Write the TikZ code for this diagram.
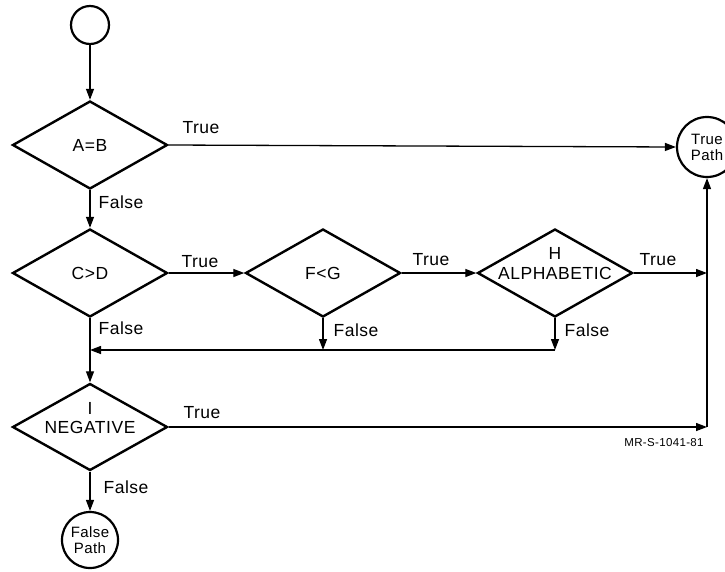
\documentclass[tikz,border=0pt]{standalone}
\usepackage{fontspec}
\setmainfont{Liberation Sans}[LetterSpace=3]
\usetikzlibrary{shapes.geometric,arrows.meta}
\begin{document}
\begin{tikzpicture}[x=1pt,y=-1pt,
  dia/.style={draw,diamond,line width=2.4pt,inner sep=0pt,minimum width=155pt,minimum height=88pt},
  term/.style={draw,circle,line width=2.2pt,inner sep=0pt,align=center,font=\fontsize{15}{16}\selectfont},
  conn/.style={line width=1.3pt},
  arr/.style={conn,-{Triangle[length=11pt,width=8pt]}},
  lbl/.style={font=\fontsize{17.5}{18}\selectfont,inner sep=0pt},
  small/.style={font=\fontsize{11.5}{12}\selectfont,inner sep=0pt}]
\useasboundingbox (0,0) rectangle (725,571);
% nodes
\node[term,minimum size=38pt] (start) at (90,25) {};
\node[dia] (AB) at (90,145) {};
\node[lbl] (tAB) at (AB.center) {A=B};
\node[dia] (CD) at (90,273) {};
\node[lbl] (tCD) at (CD.center) {C>D};
\node[dia] (FG) at (323,273) {};
\node[lbl] (tFG) at (FG.center) {F<G};
\node[dia] (H) at (555,273) {};
\node[lbl] (tH2) at (H.center) {ALPHABETIC};
\node[lbl] (tH1) at ([yshift=20pt]H.center) {H};
\node[dia,minimum height=87pt] (I) at (90,427) {};
\node[lbl] (tI2) at (I.center) {NEGATIVE};
\node[lbl] (tI1) at ([yshift=19pt]I.center) {I};
\node[term,minimum size=60pt] (TP) at (707,147) {True\\Path};
\node[term,minimum size=56pt] (FP) at (90,540) {False\\Path};
\coordinate (R1) at (707,273);
\coordinate (R2) at (707,427);
\coordinate (J1) at (323,350);
\coordinate (J2) at (555,350);
\coordinate (J0) at (90,350);
% connectors
\draw[arr] (start) -- (AB.north);
\draw[arr] (AB.east) -- (TP.west);
\draw[arr] (AB.south) -- (CD.north);
\draw[arr] (CD.east) -- (FG.west);
\draw[arr] (FG.east) -- (H.west);
\draw[arr] (H.east) -- (R1);
\draw[arr] (CD.south) -- (I.north);
\draw[arr] (FG.south) -- (J1);
\draw[arr] (H.south) -- (J2);
\draw[arr] (J2) -- (J0);
\draw[arr] (I.east) -- (R2);
\draw[arr] (R2) -- (TP.south);
\draw[arr] (I.south) -- (FP.north);
% labels
\node[lbl] (l1) at (201,128) {True};
\node[lbl] (l2) at (121,202) {False};
\node[lbl] (l3) at (200,262) {True};
\node[lbl] (l4) at (431,260) {True};
\node[lbl] (l5) at (658,260) {True};
\node[lbl] (l6) at (121,328) {False};
\node[lbl] (l7) at (356,330) {False};
\node[lbl] (l8) at (587,330) {False};
\node[lbl] (l9) at (202,413) {True};
\node[lbl] (l10) at (126,487) {False};
\node[small] (mr) at (664,443) {MR-S-1041-81};
\end{tikzpicture}
\end{document}
